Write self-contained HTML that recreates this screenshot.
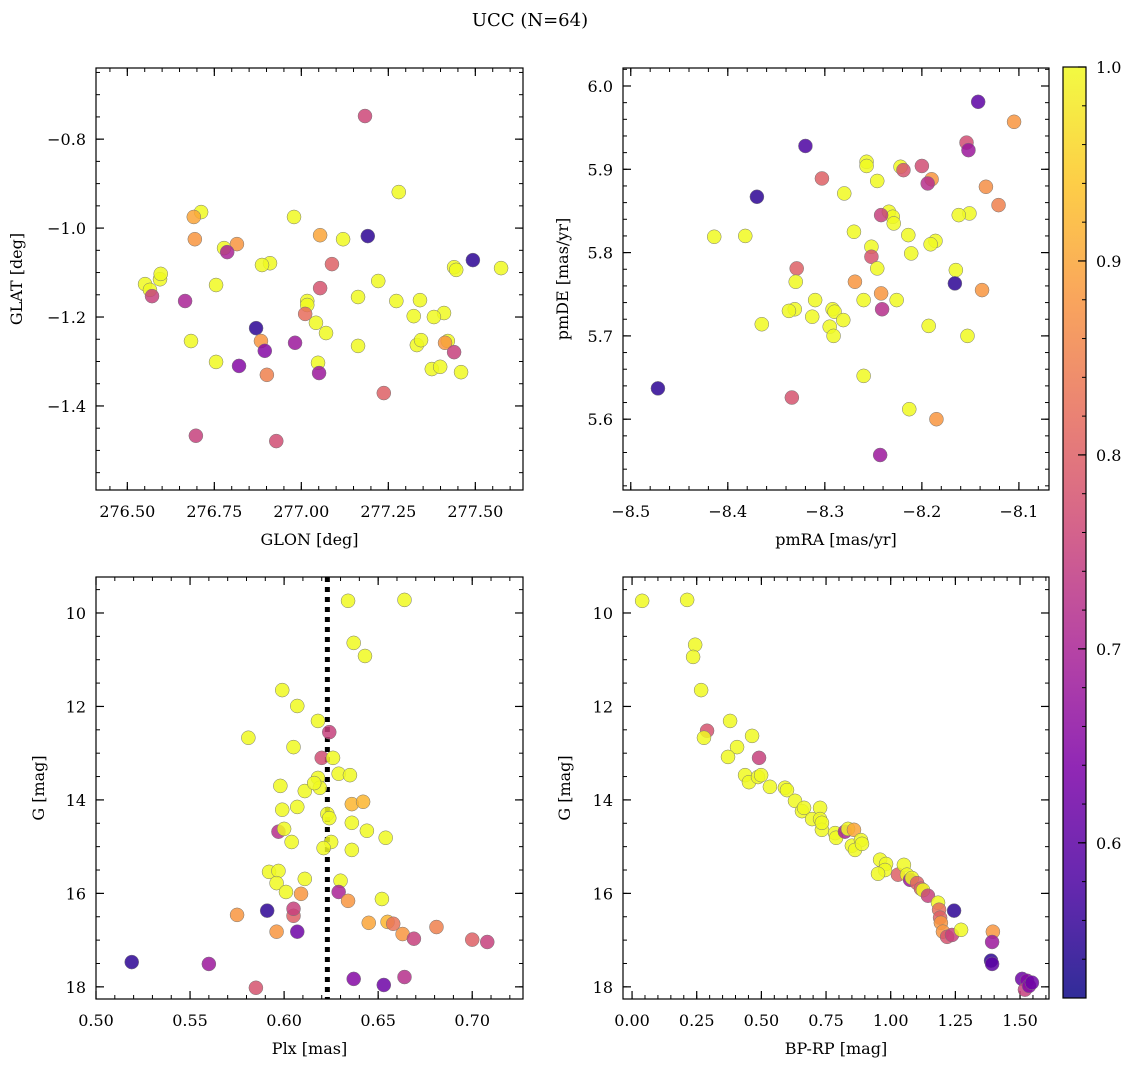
<!DOCTYPE html>
<html><head><meta charset="utf-8"><style>
body{margin:0;background:#fff;}
svg{display:block;font-family:"DejaVu Serif","Liberation Serif",serif;}
</style></head><body>
<svg id="fig" width="1136" height="1067" viewBox="0 0 1136 1067" xmlns="http://www.w3.org/2000/svg">
<defs>
<linearGradient id="plasma" x1="0" y1="1" x2="0" y2="0">
<stop offset="0" stop-color="#0d0887"/><stop offset="0.125" stop-color="#4c02a1"/><stop offset="0.25" stop-color="#7e03a8"/><stop offset="0.375" stop-color="#a92395"/><stop offset="0.5" stop-color="#cc4778"/><stop offset="0.625" stop-color="#e66c5c"/><stop offset="0.75" stop-color="#f89540"/><stop offset="0.875" stop-color="#fdc527"/><stop offset="1" stop-color="#f0f921"/>
</linearGradient>
</defs>
<text x="530" y="26" font-size="18" text-anchor="middle">UCC (N=64)</text>
</svg>
<script>
// ---- Panel 1: GLON / GLAT ----
const glon=[277.183,277.280,276.712,276.691,276.979,277.191,277.054,277.120,276.694,276.815,276.778,276.787,277.493,277.574,277.439,277.445,277.221,276.910,276.887,277.088,276.551,276.565,276.594,276.596,276.571,276.755,276.666,277.054,277.163,277.273,277.341,277.410,277.381,277.323,277.017,277.017,277.011,277.042,277.071,276.870,276.683,276.884,277.163,277.332,277.344,277.421,277.413,276.982,276.895,277.439,277.048,276.755,276.821,277.375,277.399,277.459,277.051,276.901,277.237,276.697,276.928];
const glat=[-0.748,-0.919,-0.964,-0.975,-0.975,-1.018,-1.016,-1.025,-1.025,-1.036,-1.045,-1.054,-1.072,-1.090,-1.088,-1.094,-1.119,-1.079,-1.083,-1.081,-1.126,-1.139,-1.115,-1.103,-1.153,-1.128,-1.164,-1.135,-1.155,-1.164,-1.162,-1.191,-1.200,-1.198,-1.164,-1.173,-1.193,-1.213,-1.236,-1.225,-1.254,-1.254,-1.265,-1.263,-1.252,-1.254,-1.258,-1.258,-1.276,-1.279,-1.303,-1.301,-1.310,-1.317,-1.312,-1.324,-1.326,-1.330,-1.371,-1.467,-1.479];
const prob1=[0.76,1,1,0.9,1,0.55,0.9,1,0.88,0.88,1,0.7,0.55,1,1,1,1,1,1,0.8,1,1,1,1,0.75,1,0.7,0.78,1,1,1,1,1,1,1,1,0.82,1,1,0.55,1,0.88,1,1,1,1,0.88,0.68,0.65,0.75,1,1,0.65,1,1,1,0.68,0.85,0.8,0.75,0.77];
// ---- Panel 2: pmRA / pmDE ----
const pmra=[-8.142,-8.105,-8.154,-8.152,-8.320,-8.257,-8.257,-8.303,-8.222,-8.200,-8.219,-8.190,-8.194,-8.246,-8.280,-8.370,-8.134,-8.121,-8.151,-8.162,-8.234,-8.230,-8.242,-8.229,-8.414,-8.382,-8.270,-8.214,-8.186,-8.191,-8.252,-8.211,-8.252,-8.246,-8.165,-8.329,-8.166,-8.269,-8.330,-8.242,-8.138,-8.310,-8.260,-8.226,-8.331,-8.337,-8.292,-8.290,-8.313,-8.281,-8.365,-8.193,-8.295,-8.291,-8.241,-8.153,-8.260,-8.472,-8.213,-8.334,-8.185,-8.243];
const pmde=[5.981,5.957,5.932,5.923,5.928,5.909,5.904,5.889,5.903,5.904,5.899,5.888,5.883,5.886,5.871,5.867,5.879,5.857,5.847,5.845,5.849,5.843,5.845,5.835,5.819,5.820,5.825,5.821,5.814,5.810,5.807,5.799,5.795,5.781,5.779,5.781,5.763,5.765,5.765,5.751,5.755,5.743,5.743,5.743,5.732,5.730,5.732,5.729,5.723,5.719,5.714,5.712,5.711,5.700,5.732,5.700,5.652,5.637,5.612,5.626,5.600,5.557];
const prob2=[0.6,0.88,0.77,0.68,0.58,1,1,0.8,1,0.77,0.78,0.88,0.72,1,1,0.55,0.87,0.85,1,1,1,1,0.75,1,1,1,1,1,1,1,1,1,0.78,1,1,0.8,0.55,0.88,1,0.88,0.88,1,1,1,1,1,1,1,1,1,1,1,1,1,0.72,1,1,0.55,1,0.78,0.88,0.68];
// ---- Panel 3: Plx / G ----
const plx=[0.634,0.664,0.637,0.643,0.599,0.618,0.581,0.607,0.624,0.605,0.620,0.626,0.629,0.635,0.618,0.619,0.611,0.598,0.616,0.599,0.607,0.636,0.642,0.623,0.624,0.636,0.644,0.654,0.597,0.600,0.604,0.625,0.621,0.636,0.592,0.597,0.596,0.611,0.630,0.629,0.601,0.609,0.652,0.634,0.645,0.655,0.658,0.663,0.669,0.681,0.700,0.708,0.605,0.605,0.591,0.607,0.596,0.575,0.519,0.560,0.637,0.664,0.653,0.585];
const gmag3=[9.74,9.72,10.64,10.92,11.65,12.31,12.67,11.99,12.55,12.87,13.10,13.10,13.44,13.47,13.53,13.74,13.81,13.70,13.64,14.21,14.15,14.09,14.04,14.30,14.39,14.49,14.66,14.81,14.68,14.62,14.90,14.90,15.03,15.07,15.54,15.52,15.78,15.69,15.73,15.97,15.97,16.01,16.12,16.16,16.63,16.61,16.65,16.87,16.97,16.72,16.99,17.04,16.48,16.33,16.37,16.82,16.82,16.46,17.47,17.51,17.83,17.79,17.96,18.02];
const prob3=[1,1,1,1,1,1,1,1,0.75,1,0.77,1,1,1,1,1,1,1,1,1,1,0.92,0.92,1,1,1,1,1,0.72,1,1,1,1,1,1,1,1,1,1,0.7,1,0.88,1,0.88,0.9,0.92,0.83,0.88,0.75,0.85,0.8,0.75,0.8,0.75,0.55,0.62,0.88,0.88,0.55,0.68,0.65,0.72,0.62,0.78];
const plxLine=0.623;
// ---- Panel 4: BP-RP / G ----
const bprp=[0.039,0.213,0.244,0.236,0.267,0.290,0.278,0.379,0.406,0.464,0.371,0.491,0.437,0.452,0.487,0.499,0.533,0.591,0.599,0.630,0.657,0.665,0.727,0.696,0.727,0.734,0.785,0.734,0.789,0.823,0.835,0.858,0.850,0.885,0.862,0.889,0.959,0.982,0.978,0.951,1.028,1.051,1.063,1.075,1.082,1.102,1.117,1.125,1.144,1.183,1.187,1.191,1.194,1.202,1.218,1.237,1.245,1.272,1.395,1.392,1.388,1.392,1.508,1.527,1.519,1.535,1.546];
const gmag4=[9.74,9.72,10.68,10.94,11.65,12.52,12.67,12.31,12.87,12.63,13.08,13.10,13.47,13.62,13.51,13.47,13.72,13.74,13.79,14.02,14.24,14.17,14.17,14.41,14.41,14.64,14.71,14.49,14.81,14.68,14.62,14.64,14.98,14.86,15.07,14.94,15.28,15.37,15.50,15.58,15.60,15.39,15.60,15.71,15.67,15.78,15.90,15.93,16.05,16.20,16.35,16.52,16.63,16.82,16.93,16.89,16.37,16.78,16.82,17.04,17.44,17.51,17.83,17.87,18.06,17.98,17.91];
const prob4=[1,1,1,1,1,0.78,1,1,1,1,1,0.75,1,1,1,1,1,1,1,1,1,1,1,1,1,1,1,1,1,0.7,1,0.9,1,1,1,1,1,1,1,1,0.8,1,1,0.68,1,0.8,0.8,1,0.75,1,0.82,0.8,0.88,0.88,0.78,0.75,0.55,1,0.88,0.68,0.55,0.6,0.62,0.65,0.75,0.65,0.62];
// ---- colorbar ----
const cbTicks=[0.6,0.7,0.8,0.9,1.0];
const cbMin=0.52, cbMax=1.0;

const NS="http://www.w3.org/2000/svg";
const svg=document.getElementById('fig');
function mk(tag,attrs,parent){const e=document.createElementNS(NS,tag);for(const k in attrs)e.setAttribute(k,attrs[k]);(parent||svg).appendChild(e);return e;}
const stops=[[0,[13,8,135]],[0.125,[76,2,161]],[0.25,[126,3,168]],[0.375,[169,35,149]],[0.5,[204,71,120]],[0.625,[230,108,92]],[0.75,[248,149,64]],[0.875,[253,197,39]],[1,[240,249,33]]];
function plasma(t){t=Math.max(0,Math.min(1,t));for(let i=1;i<stops.length;i++){if(t<=stops[i][0]){const a=stops[i-1],b=stops[i];const f=(t-a[0])/(b[0]-a[0]);const c=a[1].map((v,j)=>Math.round(v+(b[1][j]-v)*f));return `rgb(${c[0]},${c[1]},${c[2]})`;}}return 'rgb(240,249,33)';}
function cnorm(p){return (p-cbMin)/(cbMax-cbMin);}

function panel(cfg){
  const g=mk('g',{});
  
  
  const {x0,y0,x1,y1}=cfg;
  const sx=v=>x0+(v-cfg.xmin)/(cfg.xmax-cfg.xmin)*(x1-x0);
  const sy=cfg.yinv? (v=>y0+(v-cfg.ymin)/(cfg.ymax-cfg.ymin)*(y1-y0)) : (v=>y1-(v-cfg.ymin)/(cfg.ymax-cfg.ymin)*(y1-y0));
  const eps=1e-9;
  for(let v=Math.ceil(cfg.xmin/cfg.xminor-eps)*cfg.xminor; v<=cfg.xmax+eps; v+=cfg.xminor){const X=sx(v);
    mk('line',{x1:X,x2:X,y1:y1,y2:y1-4,stroke:'#000','stroke-width':1},g);mk('line',{x1:X,x2:X,y1:y0,y2:y0+4,stroke:'#000','stroke-width':1},g);}
  for(let v=Math.ceil(cfg.ymin/cfg.yminor-eps)*cfg.yminor; v<=cfg.ymax+eps; v+=cfg.yminor){const Y=sy(v);
    mk('line',{x1:x0,x2:x0+4,y1:Y,y2:Y,stroke:'#000','stroke-width':1},g);mk('line',{x1:x1,x2:x1-4,y1:Y,y2:Y,stroke:'#000','stroke-width':1},g);}
  cfg.xticks.forEach(v=>{const X=sx(v);
    mk('line',{x1:X,x2:X,y1:y1,y2:y1-8,stroke:'#000','stroke-width':1.2},g);mk('line',{x1:X,x2:X,y1:y0,y2:y0+8,stroke:'#000','stroke-width':1.2},g);
    const t=mk('text',{x:X,y:y1+27,'font-size':16,'text-anchor':'middle'},g);t.textContent=v.toFixed(cfg.xdec).replace('-','\u2212');
    
    });
  cfg.yticks.forEach(v=>{const Y=sy(v);
    mk('line',{x1:x0,x2:x0+8,y1:Y,y2:Y,stroke:'#000','stroke-width':1.2},g);mk('line',{x1:x1,x2:x1-8,y1:Y,y2:Y,stroke:'#000','stroke-width':1.2},g);
    const t=mk('text',{x:x0-10,y:Y+6,'font-size':16,'text-anchor':'end'},g);t.textContent=v.toFixed(cfg.ydec).replace('-','\u2212');
    
    });
  const xl=mk('text',{x:(x0+x1)/2,y:y1+55,'font-size':16,'text-anchor':'middle'},g);xl.textContent=cfg.xlabel;
  
  
  const yl=mk('text',{x:0,y:0,'font-size':16,'text-anchor':'middle',transform:`translate(${cfg.ylx},${(y0+y1)/2}) rotate(-90)`},g);yl.textContent=cfg.ylabel;
  
  
  if(cfg.vline!==undefined){const X=sx(cfg.vline);const l=mk('line',{x1:X,x2:X,y1:y0,y2:y1,stroke:'#000','stroke-width':5,'stroke-dasharray':'5 5'},g);
    
    }
  cfg.xs.forEach((v,i)=>{const c=mk('circle',{cx:sx(v),cy:sy(cfg.ys[i]),r:7,fill:plasma(cnorm(cfg.cs[i])),'fill-opacity':0.85,stroke:'#777','stroke-width':0.5},g);
    
    });
  mk('rect',{x:x0,y:y0,width:x1-x0,height:y1-y0,fill:'none',stroke:'#000','stroke-width':1.2},g);
}
panel({name:'panel-glon-glat',x0:96,y0:68,x1:523,y1:490,xmin:276.410,xmax:277.637,ymin:-1.589,ymax:-0.640,xticks:[276.5,276.75,277,277.25,277.5],xdec:2,yticks:[-1.4,-1.2,-1.0,-0.8],ydec:1,xminor:0.05,yminor:0.05,xlabel:'GLON [deg]',ylabel:'GLAT [deg]',ylx:22,xs:glon,ys:glat,cs:prob1});
panel({name:'panel-pm',x0:623,y0:68,x1:1049,y1:490,xmin:-8.508,xmax:-8.069,ymin:5.515,ymax:6.0216,xticks:[-8.5,-8.4,-8.3,-8.2,-8.1],xdec:1,yticks:[5.6,5.7,5.8,5.9,6.0],ydec:1,xminor:0.02,yminor:0.02,xlabel:'pmRA [mas/yr]',ylabel:'pmDE [mas/yr]',ylx:568,xs:pmra,ys:pmde,cs:prob2});
panel({name:'panel-plx-g',x0:96,y0:577,x1:523,y1:999,xmin:0.5,xmax:0.727,ymin:9.23,ymax:18.26,yinv:true,xticks:[0.5,0.55,0.6,0.65,0.7],xdec:2,yticks:[10,12,14,16,18],ydec:0,xminor:0.01,yminor:0.5,xlabel:'Plx [mas]',ylabel:'G [mag]',ylx:44,xs:plx,ys:gmag3,cs:prob3,vline:plxLine});
panel({name:'panel-cmd',x0:623,y0:577,x1:1049,y1:999,xmin:-0.035,xmax:1.612,ymin:9.23,ymax:18.26,yinv:true,xticks:[0,0.25,0.5,0.75,1,1.25,1.5],xdec:2,yticks:[10,12,14,16,18],ydec:0,xminor:0.05,yminor:0.5,xlabel:'BP-RP [mag]',ylabel:'G [mag]',ylx:570,xs:bprp,ys:gmag4,cs:prob4});
const cb=mk('g',{});


const cbx0=1063,cbx1=1086,cby0=67,cby1=998;
mk('rect',{x:cbx0,y:cby0,width:cbx1-cbx0,height:cby1-cby0,fill:'url(#plasma)','fill-opacity':0.85},cb);
mk('rect',{x:cbx0,y:cby0,width:cbx1-cbx0,height:cby1-cby0,fill:'none',stroke:'#000','stroke-width':1.2},cb);
const cy=v=>cby1-(v-cbMin)/(cbMax-cbMin)*(cby1-cby0);
for(let v=0.54;v<=1.0001;v+=0.02){mk('line',{x1:cbx1,x2:cbx1-4,y1:cy(v),y2:cy(v),stroke:'#000','stroke-width':1},cb);}
cbTicks.forEach(v=>{const Y=cy(v);mk('line',{x1:cbx1,x2:cbx1-8,y1:Y,y2:Y,stroke:'#000','stroke-width':1.2},cb);
  const t=mk('text',{x:cbx1+10,y:Y+6,'font-size':16},cb);t.textContent=v.toFixed(1);
  
  });
</script>
</body></html>
